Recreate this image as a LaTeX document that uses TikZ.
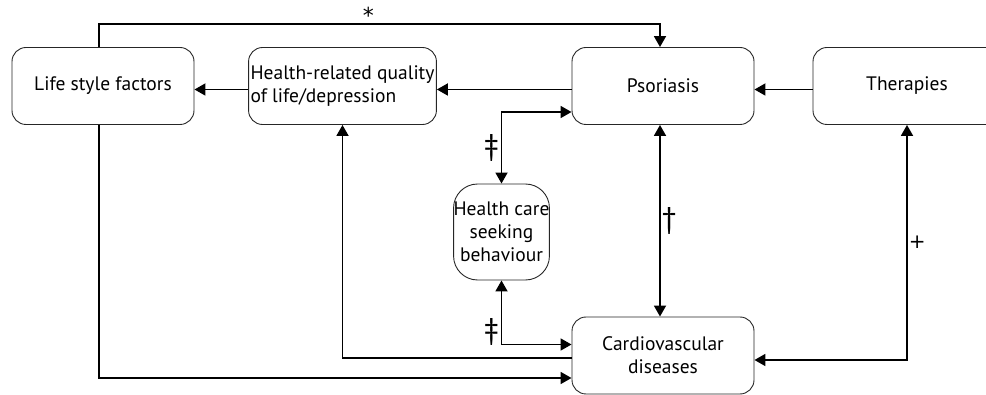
\documentclass[tikz,border=0pt]{standalone}
\usepackage{fontspec}
\setmainfont{PT Sans}
\newfontfamily\symfont{DejaVu Sans}
\usetikzlibrary{arrows.meta}
\begin{document}
\begin{tikzpicture}[x=1pt,y=-1pt,
  box/.style={draw=black!85,line width=0.9pt,rounded corners=14pt,minimum width=182pt,minimum height=77pt,inner sep=2pt,font=\fontsize{19.5}{23}\selectfont},
  arr/.style={line width=1.8pt,-{Triangle[length=11pt,width=12pt]}},
  darr/.style={line width=1.8pt,{Triangle[length=11pt,width=12pt]}-{Triangle[length=11pt,width=12pt]}},
  lab/.style={font=\symfont\fontsize{20}{20}\selectfont,inner sep=2pt},
  dag/.style={font=\fontsize{30}{30}\selectfont,inner sep=2pt}]
\useasboundingbox (0,0) rectangle (986,395);

\node[box] (life) at (103,86) {Life style factors};
\node[box,align=left] (hrq) [right of=life,node distance=239.5pt] {Health-related quality\\of life/depression};
\node[box] (psor) [right of=hrq,node distance=320.5pt] {Psoriasis};
\node[box,minimum width=188pt] (ther) [right of=psor,node distance=244pt] {Therapies};
\node[box,align=center] (cvd) [below of=psor,node distance=269.5pt] {Cardiovascular\\diseases};
\node[box,align=center,minimum width=91pt,minimum height=96pt,inner sep=0pt,rounded corners=24pt] (hcs) at (501.5,232) {Health care\\seeking\\behaviour};

\draw[arr] ([xshift=-4pt]life.north) -- ++(0,-23) -| node[pos=0.24,above=-4pt,font=\symfont\fontsize{22}{22}\selectfont] {*} ([xshift=-3pt]psor.north);
\draw[arr] ([yshift=-3.5pt]hrq.west) -- ([yshift=-3.5pt]life.east);
\draw[arr] ([yshift=-3.5pt]psor.west) -- ([yshift=-3.5pt]hrq.east);
\draw[arr] ([yshift=-3.5pt]ther.west) -- ([yshift=-3.5pt]psor.east);

\draw[darr] (hcs.north) |- node[pos=0.25,left,dag] {‡} ([yshift=-26pt]psor.west);
\draw[darr] (hcs.south) |- node[pos=0.4,left,dag] {‡} ([yshift=11pt]cvd.west);
\draw[darr] ([xshift=-3pt]psor.south) -- node[right=-1pt,dag] {†} ([xshift=-3pt]cvd.north);

\draw[arr] ([yshift=-2.5pt]cvd.west) -| (hrq.south);
\draw[arr] ([xshift=-4pt]life.south) |- ([yshift=-22.5pt]cvd.west);
\draw[darr] ([yshift=-4.5pt]cvd.east) -| node[pos=0.75,right=-1pt,lab] {+} (ther.south);
\end{tikzpicture}
\end{document}
